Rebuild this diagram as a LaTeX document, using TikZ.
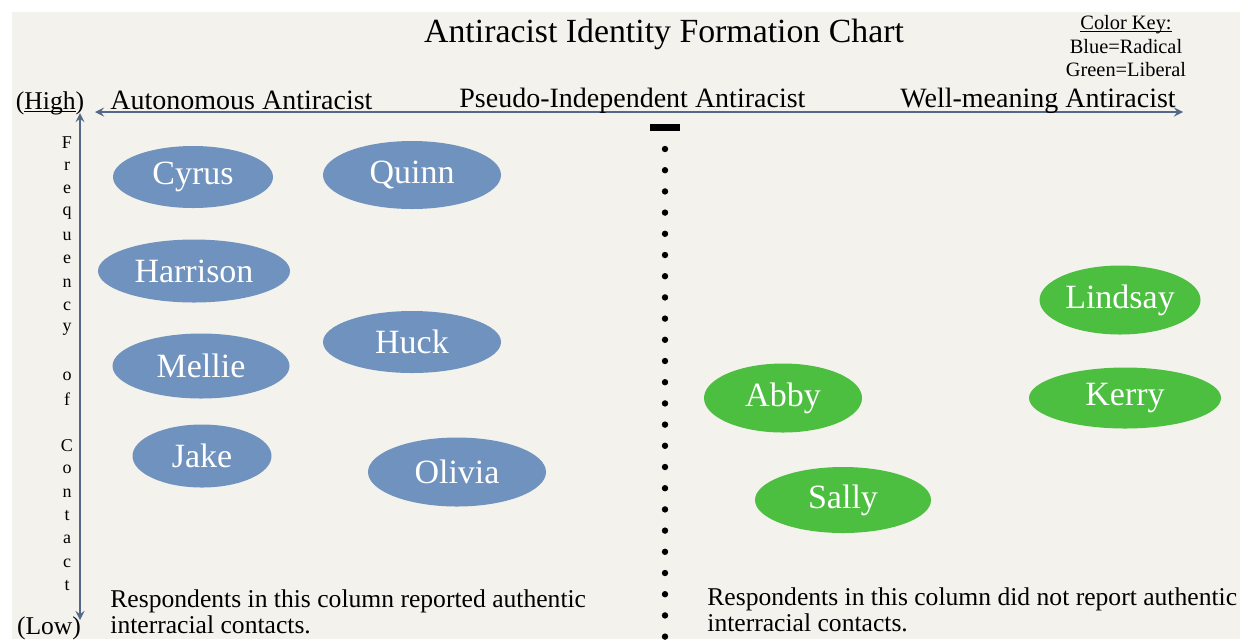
\documentclass[tikz,border=0pt]{standalone}
\usepackage{fontspec}
\setmainfont{Liberation Serif}
\usepackage{tikz}
\usetikzlibrary{shapes.geometric}

\definecolor{fundo}{RGB}{244,242,237}
\definecolor{eixo}{RGB}{84,104,138}
\definecolor{azul}{RGB}{112,146,190}
\definecolor{verde}{RGB}{76,190,64}
\newcommand{\sublinha}[1]{\underline{\smash{#1}}}

\begin{document}
\begin{tikzpicture}[x=0.5pt, y=-0.5pt,
    radical/.style={ellipse, fill=azul, text=white, inner sep=0pt, font=\fontsize{17}{18}\selectfont},
    liberal/.style={ellipse, fill=verde, text=white, inner sep=0pt, font=\fontsize{17}{18}\selectfont},
    coluna/.style={font=\fontsize{14}{15}\selectfont, anchor=base west, inner sep=0pt},
    nota/.style={font=\fontsize{12.8}{13}\selectfont, align=left, anchor=base west, inner sep=0pt}]
    \useasboundingbox (0,0) rectangle (1240,639);
    \fill[fundo] (12,12) rectangle (1240,639);

    \node[font=\fontsize{16.9}{17}\selectfont, anchor=base] (titulo) at (664,42) {Antiracist Identity Formation Chart};

    % legenda
    \node[font=\fontsize{10.2}{10}\selectfont, anchor=base] (chave) at (1126,29) {\sublinha{Color Key:}};
    \node[font=\fontsize{10.2}{10}\selectfont, anchor=base] (chaveazul) at (1126,53) {Blue=Radical};
    \node[font=\fontsize{10.2}{10}\selectfont, anchor=base] (chaveverde) at (1126,76) {Green=Liberal};

    % eixos
    \coordinate (esq) at (95,112);
    \coordinate (dir) at (1183,112);
    \coordinate (topo) at (80,113);
    \coordinate (base) at (80,620);
    \draw[eixo, line width=1pt, <->, >=stealth] (esq) -- (dir);
    \draw[eixo, line width=1pt, <->, >=stealth] (topo) -- (base);

    \node[font=\fontsize{12.8}{14}\selectfont, anchor=base] (alta) at (50,109) {(\sublinha{High})};
    \node[font=\fontsize{12.8}{14}\selectfont, anchor=base] (baixa) at (49,634) {(Low)};

    \node[coluna] (autonomo) at (110,109) {Autonomous Antiracist};
    \node[coluna] (pseudo) at (459,107) {Pseudo-Independent Antiracist};
    \node[coluna] (bemintenc) at (900,107) {Well-meaning Antiracist};

    % Frequency of Contact
    \foreach \l/\y in {F/143, r/166, e/189, q/213, u/236, e/259, n/283, c/306, y/329,
                       o/376, f/399, C/446, o/469, n/493, t/516, a/539, c/563, t/586}
        \node[font=\fontsize{9}{10}\selectfont] at (67,\y) {\l};

    % separador
    \fill (650,124) rectangle (680,131);
    \foreach \k in {0,...,23}
        \fill (665,{149+21.2*\k}) circle[radius=1.6pt];

    \node[radical, minimum width=80pt, minimum height=31pt] (cyrus) at (193,177) {Cyrus};
    \node[radical, minimum width=89pt, minimum height=34pt] (quinn) at (412,175) {Quinn};
    \node[radical, minimum width=96pt, minimum height=31.5pt] (harrison) at (194,271) {Harrison};
    \node[radical, minimum width=89pt, minimum height=31pt] (huck) at (412,342) {Huck};
    \node[radical, minimum width=88.5pt, minimum height=32.5pt] (mellie) at (201,366) {Mellie};
    \node[radical, minimum width=69.5pt, minimum height=31.5pt] (jake) at (202,456) {Jake};
    \node[radical, minimum width=89pt, minimum height=34.5pt] (olivia) at (457,472) {Olivia};

    \node[liberal, minimum width=80.5pt, minimum height=34.5pt] (lindsay) at (1120,300) {Lindsay};
    \node[liberal, minimum width=79pt, minimum height=34.5pt] (abby) at (783,398) {Abby};
    \node[liberal, minimum width=96pt, minimum height=30.5pt] (kerry) at (1125,398) {Kerry};
    \node[liberal, minimum width=88pt, minimum height=33pt] (sally) at (843,500) {Sally};

    \node[nota] (notaesq) at (110,633) {Respondents in this column reported authentic\\interracial contacts.};
    \node[nota] (notadir) at (707,631) {Respondents in this column did not report authentic\\interracial contacts.};

\end{tikzpicture}
\end{document}
